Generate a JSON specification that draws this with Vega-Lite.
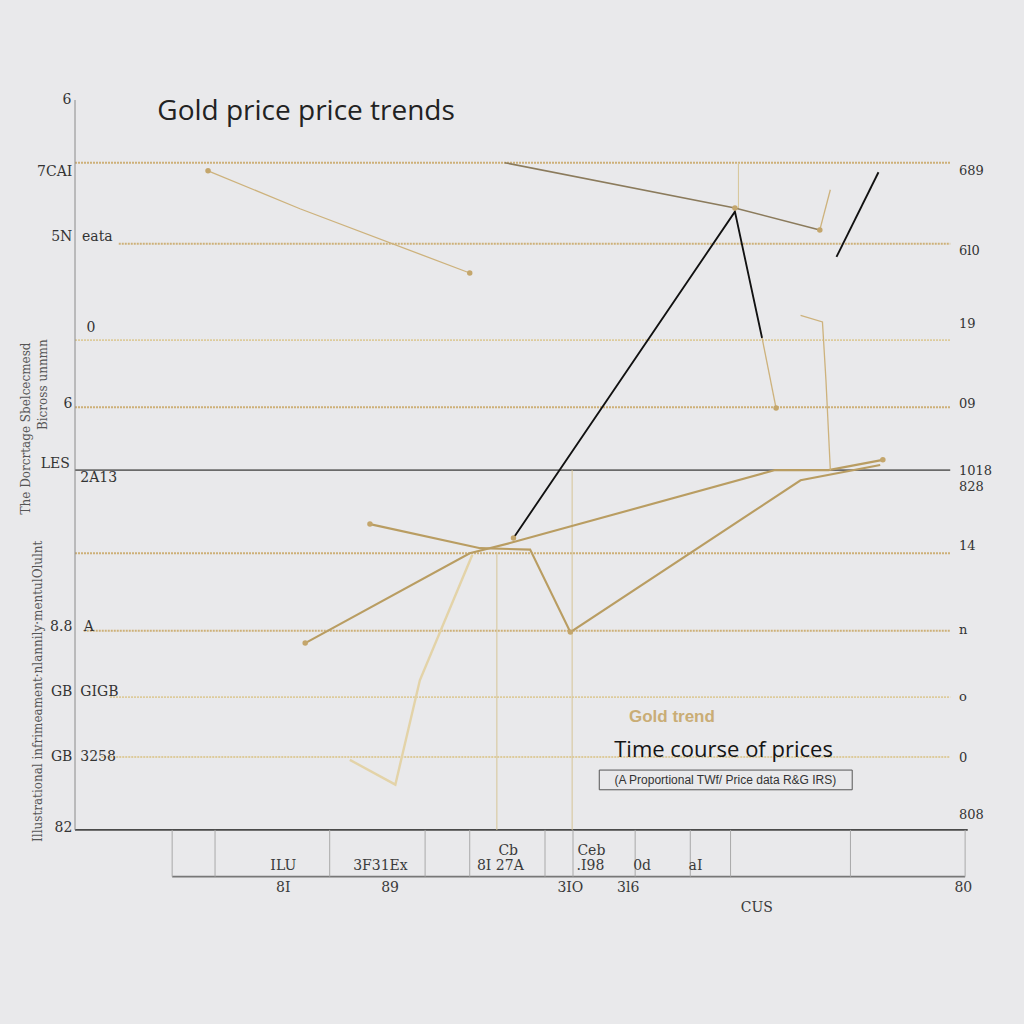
{
  "$schema": "https://vega.github.io/schema/vega-lite/v6.json",
  "autosize": {"type": "none"},
  "padding": {"left": 75, "top": 100, "right": 30, "bottom": 124},
  "width": 919,
  "height": 800,
  "background": "#e9e9eb",
  "config": {"view": {"stroke": null}, "font": "Liberation Sans"},
  "datasets": {
    "grid": [
      {"y": 91.4, "x": 0, "x2": 100, "k": "gold"},
      {"y": 80.3, "x": 5, "x2": 100, "k": "gold"},
      {"y": 67.1, "x": 0, "x2": 100, "k": "pale"},
      {"y": 57.9, "x": 0, "x2": 100, "k": "gold"},
      {"y": 49.3, "x": 0, "x2": 100, "k": "dark"},
      {"y": 37.9, "x": 0, "x2": 100, "k": "gold"},
      {"y": 27.3, "x": 1, "x2": 100, "k": "gold"},
      {"y": 18.2, "x": 4, "x2": 100, "k": "pale"},
      {"y": 10.0, "x": 3, "x2": 100, "k": "pale"},
      {"y": 0, "x": 0, "x2": 102, "k": "axis"},
      {"y": -6.4, "x": 11.1, "x2": 101.7, "k": "axis2"}
    ],
    "vrules": [
      {"x": 0, "y": 0, "y2": 100, "k": "axis2"},
      {"x": 75.8, "y": 85, "y2": 91.4, "k": "pale"},
      {"x": 56.8, "y": 0, "y2": 49.3, "k": "pale"},
      {"x": 48.2, "y": 0, "y2": 38, "k": "pale"},
      {"x": 11.1, "y": -6.4, "y2": 0, "k": "div"},
      {"x": 16.0, "y": -6.4, "y2": 0, "k": "div"},
      {"x": 29.1, "y": -6.4, "y2": 0, "k": "div"},
      {"x": 40.0, "y": -6.4, "y2": 0, "k": "div"},
      {"x": 45.1, "y": -6.4, "y2": 0, "k": "div"},
      {"x": 53.7, "y": -6.4, "y2": 0, "k": "div"},
      {"x": 56.9, "y": -6.4, "y2": 0, "k": "div"},
      {"x": 64.0, "y": -6.4, "y2": 0, "k": "div"},
      {"x": 70.3, "y": -6.4, "y2": 0, "k": "div"},
      {"x": 74.9, "y": -6.4, "y2": 0, "k": "div"},
      {"x": 88.6, "y": -6.4, "y2": 0, "k": "div"},
      {"x": 101.7, "y": -6.4, "y2": 0, "k": "div"}
    ],
    "lines": [
      {"s": "A", "k": "thin", "o": 1, "x": 15.2, "y": 90.3},
      {"s": "A", "k": "thin", "o": 2, "x": 25.7, "y": 85.1},
      {"s": "A", "k": "thin", "o": 3, "x": 45.1, "y": 76.3},
      {"s": "B", "k": "brown", "o": 1, "x": 49.1, "y": 91.4},
      {"s": "B", "k": "brown", "o": 2, "x": 75.4, "y": 85.2},
      {"s": "B", "k": "brown", "o": 3, "x": 85.1, "y": 82.2},
      {"s": "J", "k": "thin", "o": 1, "x": 85.1, "y": 82.2},
      {"s": "J", "k": "thin", "o": 2, "x": 86.3, "y": 87.7},
      {"s": "C", "k": "black", "o": 1, "x": 50.1, "y": 40.0},
      {"s": "C", "k": "black", "o": 2, "x": 75.4, "y": 84.7},
      {"s": "C", "k": "black", "o": 3, "x": 78.5, "y": 67.4},
      {"s": "D", "k": "black", "o": 1, "x": 87.0, "y": 78.5},
      {"s": "D", "k": "black", "o": 2, "x": 91.8, "y": 90.1},
      {"s": "E", "k": "gold", "o": 1, "x": 26.3, "y": 25.6},
      {"s": "E", "k": "gold", "o": 2, "x": 45.1, "y": 37.9},
      {"s": "E", "k": "gold", "o": 3, "x": 49.7, "y": 39.3},
      {"s": "E", "k": "gold", "o": 4, "x": 80.0, "y": 49.3},
      {"s": "E", "k": "gold", "o": 5, "x": 86.1, "y": 49.3},
      {"s": "E", "k": "gold", "o": 6, "x": 92.3, "y": 50.7},
      {"s": "F", "k": "gold", "o": 1, "x": 33.7, "y": 41.9},
      {"s": "F", "k": "gold", "o": 2, "x": 46.3, "y": 38.6},
      {"s": "F", "k": "gold", "o": 3, "x": 52.0, "y": 38.4},
      {"s": "F", "k": "gold", "o": 4, "x": 56.6, "y": 27.1},
      {"s": "F", "k": "gold", "o": 5, "x": 82.9, "y": 47.9},
      {"s": "F", "k": "gold", "o": 6, "x": 92.0, "y": 50.0},
      {"s": "G", "k": "thin", "o": 1, "x": 78.5, "y": 67.4},
      {"s": "G", "k": "thin", "o": 2, "x": 80.1, "y": 57.8},
      {"s": "H", "k": "thin", "o": 1, "x": 82.9, "y": 70.5},
      {"s": "H", "k": "thin", "o": 2, "x": 85.4, "y": 69.6},
      {"s": "H", "k": "thin", "o": 3, "x": 85.8, "y": 61.6},
      {"s": "H", "k": "thin", "o": 4, "x": 86.3, "y": 49.3},
      {"s": "I", "k": "faint", "o": 1, "x": 45.4, "y": 37.7},
      {"s": "I", "k": "faint", "o": 2, "x": 39.4, "y": 20.5},
      {"s": "I", "k": "faint", "o": 3, "x": 36.6, "y": 6.2},
      {"s": "I", "k": "faint", "o": 4, "x": 31.4, "y": 9.6}
    ],
    "dots": [
      {"x": 15.2, "y": 90.3}, {"x": 45.1, "y": 76.3}, {"x": 75.4, "y": 85.2},
      {"x": 80.1, "y": 57.8}, {"x": 50.1, "y": 40.0}, {"x": 33.7, "y": 41.9},
      {"x": 26.3, "y": 25.6}, {"x": 56.6, "y": 27.1}, {"x": 92.3, "y": 50.7},
      {"x": 85.1, "y": 82.2}
    ],
    "leftR": [
      {"t": "6", "x": -0.4, "y": 100},
      {"t": "7CAI", "x": -0.3, "y": 90.1},
      {"t": "5N", "x": -0.3, "y": 81.2},
      {"t": "6", "x": -0.3, "y": 58.4},
      {"t": "LES", "x": -0.6, "y": 50.1},
      {"t": "8.8", "x": -0.3, "y": 27.8},
      {"t": "GB", "x": -0.3, "y": 18.9},
      {"t": "GB", "x": -0.3, "y": 10.0},
      {"t": "82", "x": -0.3, "y": 0.3}
    ],
    "leftL": [
      {"t": "eata", "x": 0.8, "y": 81.2},
      {"t": "0", "x": 1.3, "y": 68.8},
      {"t": "2A13", "x": 0.6, "y": 48.2},
      {"t": "A", "x": 1.0, "y": 27.8},
      {"t": "GIGB", "x": 0.6, "y": 18.9},
      {"t": "3258", "x": 0.6, "y": 10.0}
    ],
    "right": [
      {"t": "689", "x": 101.0, "y": 90.3},
      {"t": "6l0", "x": 101.0, "y": 79.3},
      {"t": "19", "x": 101.0, "y": 69.3},
      {"t": "09", "x": 101.0, "y": 58.4},
      {"t": "1018", "x": 101.0, "y": 49.2},
      {"t": "828", "x": 101.0, "y": 47.0},
      {"t": "14", "x": 101.0, "y": 38.9},
      {"t": "n", "x": 101.0, "y": 27.4},
      {"t": "o", "x": 101.0, "y": 18.2},
      {"t": "0", "x": 101.0, "y": 9.9},
      {"t": "808", "x": 101.0, "y": 2.1}
    ],
    "bottom": [
      {"t": "ILU", "x": 23.8, "y": -4.9},
      {"t": "3F31Ex", "x": 34.9, "y": -4.9},
      {"t": "8I  27A", "x": 48.6, "y": -4.9},
      {"t": ".I98", "x": 58.9, "y": -4.9},
      {"t": "0d", "x": 64.8, "y": -4.9},
      {"t": "aI", "x": 70.9, "y": -4.9},
      {"t": "Cb", "x": 49.5, "y": -2.9},
      {"t": "Ceb", "x": 59.0, "y": -2.9},
      {"t": "8I", "x": 23.8, "y": -7.9},
      {"t": "89", "x": 36.0, "y": -7.9},
      {"t": "3IO", "x": 56.6, "y": -7.9},
      {"t": "3l6", "x": 63.2, "y": -7.9},
      {"t": "80", "x": 101.5, "y": -7.9},
      {"t": "CUS", "x": 77.9, "y": -10.7}
    ],
    "title": [{"t": "Gold price price trends", "x": 9.4, "y": 98.4}],
    "gold": [{"t": "Gold trend", "x": 68.2, "y": 15.5}],
    "note": [{"t": "Time course of prices", "x": 74.1, "y": 11.0}],
    "sub": [{"t": "(A Proportional TWf/ Price data R&G IRS)", "x": 74.3, "y": 6.8}],
    "box": [{"x": 59.9, "x2": 88.8, "y": 8.2, "y2": 5.5}],
    "ytitle": [
      {"t": "The Dorcrtage Sbelcecmesd", "x": -5.6, "y": 55.0},
      {"t": "Bicross unnmn", "x": -3.6, "y": 61.0},
      {"t": "Illustrational infrimeament·nlannily·mentulOlulnt", "x": -4.2, "y": 19.0}
    ]
  },
  "layer": [
    {
      "data": {"name": "grid"},
      "mark": {"type": "rule"},
      "encoding": {
        "x": {"field": "x", "type": "quantitative", "scale": {"domain": [0, 105], "nice": false, "zero": false}, "axis": null},
        "x2": {"field": "x2"},
        "y": {"field": "y", "type": "quantitative", "scale": {"domain": [-9.6, 100], "nice": false, "zero": false}, "axis": null},
        "color": {"field": "k", "type": "nominal", "legend": null,
          "scale": {"domain": ["gold", "pale", "dark", "axis", "axis2"], "range": ["#cdb078", "#ddcb9c", "#6a6a6a", "#4a4a4a", "#777777"]}},
        "strokeWidth": {"field": "k", "type": "nominal", "legend": null,
          "scale": {"domain": ["gold", "pale", "dark", "axis", "axis2"], "range": [2, 1.6, 1.8, 1.6, 1.3]}},
        "strokeDash": {"field": "k", "type": "nominal", "legend": null,
          "scale": {"domain": ["gold", "pale", "dark", "axis", "axis2"], "range": [[2, 1], [2, 1], [1, 0], [1, 0], [1, 0]]}}
      }
    },
    {
      "data": {"name": "vrules"},
      "mark": {"type": "rule"},
      "encoding": {
        "x": {"field": "x", "type": "quantitative"},
        "y": {"field": "y", "type": "quantitative"},
        "y2": {"field": "y2"},
        "color": {"field": "k", "type": "nominal", "legend": null,
          "scale": {"domain": ["axis2", "pale", "div"], "range": ["#8a8a8a", "#d6c597", "#a9a9a9"]}},
        "strokeWidth": {"value": 1}
      }
    },
    {
      "data": {"name": "lines"},
      "mark": {"type": "line"},
      "encoding": {
        "x": {"field": "x", "type": "quantitative"},
        "y": {"field": "y", "type": "quantitative"},
        "detail": {"field": "s", "type": "nominal"},
        "order": {"field": "o", "type": "quantitative"},
        "stroke": {"field": "k", "type": "nominal", "legend": null,
          "scale": {"domain": ["thin", "brown", "black", "gold", "faint"], "range": ["#cdb27c", "#8b7b5c", "#111111", "#b99d62", "#e3d3a8"]}},
        "strokeWidth": {"field": "k", "type": "nominal", "legend": null,
          "scale": {"domain": ["thin", "brown", "black", "gold", "faint"], "range": [1.3, 2.4, 3, 2, 1.2]}}
      }
    },
    {
      "data": {"name": "dots"},
      "mark": {"type": "point", "filled": true, "size": 30, "color": "#c4a66c", "opacity": 1},
      "encoding": {
        "x": {"field": "x", "type": "quantitative"},
        "y": {"field": "y", "type": "quantitative"}
      }
    },
    {
      "data": {"name": "box"},
      "mark": {"type": "rect", "fill": null, "stroke": "#555555", "strokeWidth": 1},
      "encoding": {
        "x": {"field": "x", "type": "quantitative"},
        "x2": {"field": "x2"},
        "y": {"field": "y", "type": "quantitative"},
        "y2": {"field": "y2"}
      }
    },
    {
      "data": {"name": "leftR"},
      "mark": {"type": "text", "align": "right", "baseline": "middle", "fontSize": 14, "color": "#333333", "font": "DejaVu Serif"},
      "encoding": {
        "x": {"field": "x", "type": "quantitative"},
        "y": {"field": "y", "type": "quantitative"},
        "text": {"field": "t"}
      }
    },
    {
      "data": {"name": "leftL"},
      "mark": {"type": "text", "align": "left", "baseline": "middle", "fontSize": 14, "color": "#333333", "font": "DejaVu Serif"},
      "encoding": {
        "x": {"field": "x", "type": "quantitative"},
        "y": {"field": "y", "type": "quantitative"},
        "text": {"field": "t"}
      }
    },
    {
      "data": {"name": "right"},
      "mark": {"type": "text", "align": "left", "baseline": "middle", "fontSize": 13, "color": "#333333", "font": "DejaVu Serif"},
      "encoding": {
        "x": {"field": "x", "type": "quantitative"},
        "y": {"field": "y", "type": "quantitative"},
        "text": {"field": "t"}
      }
    },
    {
      "data": {"name": "bottom"},
      "mark": {"type": "text", "align": "center", "baseline": "middle", "fontSize": 14, "color": "#3a3a3a", "font": "DejaVu Serif"},
      "encoding": {
        "x": {"field": "x", "type": "quantitative"},
        "y": {"field": "y", "type": "quantitative"},
        "text": {"field": "t"}
      }
    },
    {
      "data": {"name": "ytitle"},
      "mark": {"type": "text", "align": "center", "baseline": "middle", "fontSize": 12, "angle": 270, "color": "#555555", "font": "DejaVu Serif"},
      "encoding": {
        "x": {"field": "x", "type": "quantitative"},
        "y": {"field": "y", "type": "quantitative"},
        "text": {"field": "t"}
      }
    },
    {
      "data": {"name": "title"},
      "mark": {"type": "text", "align": "left", "baseline": "middle", "fontSize": 28, "color": "#222222", "font": "Open Sans"},
      "encoding": {
        "x": {"field": "x", "type": "quantitative"},
        "y": {"field": "y", "type": "quantitative"},
        "text": {"field": "t"}
      }
    },
    {
      "data": {"name": "gold"},
      "mark": {"type": "text", "align": "center", "baseline": "middle", "fontSize": 17, "fontWeight": "bold", "color": "#c9ad76"},
      "encoding": {
        "x": {"field": "x", "type": "quantitative"},
        "y": {"field": "y", "type": "quantitative"},
        "text": {"field": "t"}
      }
    },
    {
      "data": {"name": "note"},
      "mark": {"type": "text", "align": "center", "baseline": "middle", "fontSize": 22, "color": "#151515", "font": "Open Sans"},
      "encoding": {
        "x": {"field": "x", "type": "quantitative"},
        "y": {"field": "y", "type": "quantitative"},
        "text": {"field": "t"}
      }
    },
    {
      "data": {"name": "sub"},
      "mark": {"type": "text", "align": "center", "baseline": "middle", "fontSize": 12, "color": "#333333"},
      "encoding": {
        "x": {"field": "x", "type": "quantitative"},
        "y": {"field": "y", "type": "quantitative"},
        "text": {"field": "t"}
      }
    }
  ],
  "resolve": {"scale": {"color": "independent", "strokeWidth": "independent"}}
}
